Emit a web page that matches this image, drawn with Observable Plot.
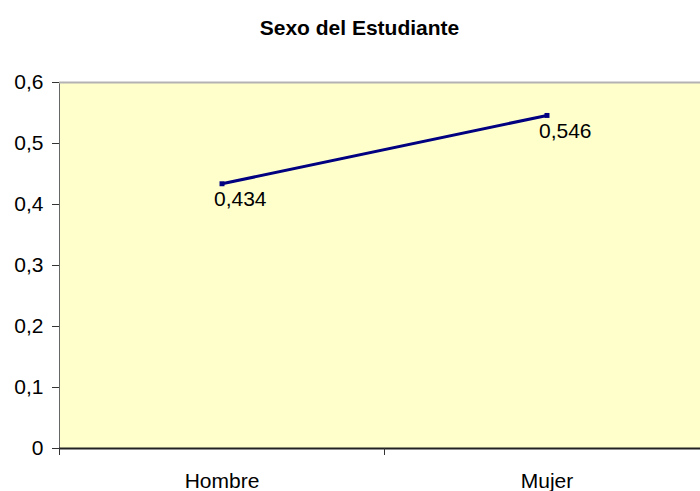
<!DOCTYPE html>
<html>
<head>
<meta charset="utf-8">
<script src="https://cdn.jsdelivr.net/npm/d3@7"></script>
<script src="https://cdn.jsdelivr.net/npm/@observablehq/plot@0.6"></script>
<style>
  html, body { margin: 0; padding: 0; background: #fff; overflow: hidden; }
  #title {
    width: 700px; height: 60px; box-sizing: border-box;
    padding-top: 16px; padding-left: 19px;
    text-align: center; font: bold 21px/24px "Liberation Sans", Arial, sans-serif; color: #000;
  }
  #chart { width: 700px; overflow: hidden; }
  #chart svg { max-width: none !important; display: block; }
</style>
</head>
<body>
<div id="title">Sexo del Estudiante</div>
<div id="chart"></div>
<script>
const categories = ["Hombre", "Mujer"];
const values = [0.434, 0.546];
const valueLabels = ["0,434", "0,546"];
const yTicks = [0, 0.1, 0.2, 0.3, 0.4, 0.5, 0.6];
const yTickLabels = ["0", "0,1", "0,2", "0,3", "0,4", "0,5", "0,6"];

const data = categories.map((c, i) => ({cat: c, pos: i + 0.5, value: values[i], label: valueLabels[i]}));
const boundaries = categories.map((c, i) => i).concat([categories.length]);
const centers = categories.map((c, i) => i + 0.5);

const navy = "#000080";

const chart = Plot.plot({
  width: 710,
  height: 431,
  marginTop: 22,
  marginBottom: 43,
  marginLeft: 59,
  marginRight: 1,
  style: {fontFamily: "'Liberation Sans', Arial, sans-serif", fontSize: "21px", color: "#000", background: "transparent", overflow: "visible", maxWidth: "none"},
  x: {type: "linear", domain: [0, categories.length]},
  y: {domain: [0, 0.6]},
  marks: [
    Plot.frame({fill: "#FFFFCC", stroke: "#666666"}),
    Plot.ruleY([0.6], {stroke: "#b3b3b3", strokeWidth: 2}),
    Plot.ruleY([0], {stroke: "#222222", strokeWidth: 2}),
    Plot.axisY({ticks: yTicks, tickFormat: (d, i) => yTickLabels[yTicks.indexOf(d)], tickSize: 7, tickPadding: 9, fontSize: 21, stroke: "#333", label: null}),
    Plot.axisX({ticks: boundaries, tickFormat: () => "", tickSize: 7, stroke: "#333", label: null}),
    Plot.axisX({ticks: centers, tickFormat: d => categories[Math.round(d - 0.5)], tickSize: 0, tickPadding: 25, fontSize: 21, label: null}),
    Plot.line(data, {x: "pos", y: "value", stroke: navy, strokeWidth: 3}),
    Plot.dot(data, {x: "pos", y: "value", symbol: "square", r: 2.8, fill: navy, stroke: null}),
    Plot.text(data, {x: "pos", y: "value", text: "label", textAnchor: "start", dx: -8, dy: 16, fontSize: 21, fill: "#000"})
  ]
});
document.getElementById("chart").appendChild(chart);
</script>
</body>
</html>
